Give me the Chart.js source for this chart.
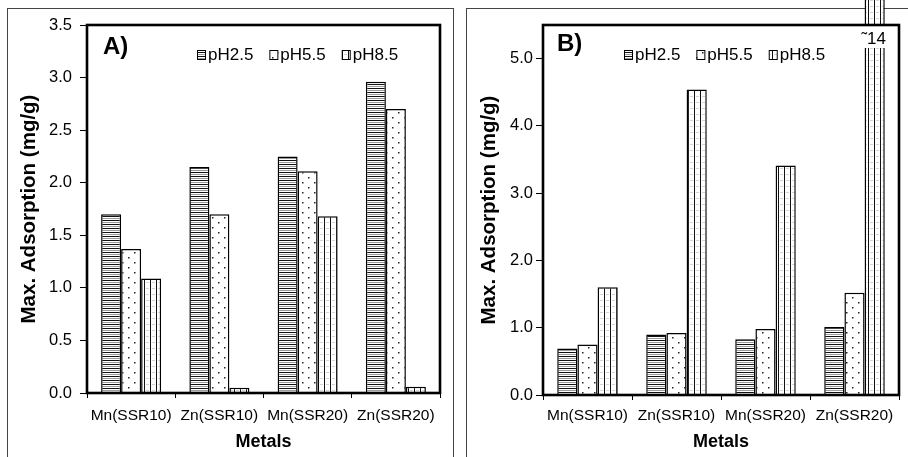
<!DOCTYPE html>
<html><head><meta charset="utf-8">
<script src="https://cdn.jsdelivr.net/npm/chart.js@4.4.0/dist/chart.umd.min.js"></script>
<style>
html,body{margin:0;padding:0;background:#fff;}
#wrap{position:relative;width:908px;height:457px;overflow:hidden;background:#fff;}
.box{position:absolute;border:1px solid #444;box-sizing:border-box;}
canvas{position:absolute;top:0;}
</style></head><body>
<div id="wrap">
<div class="box" style="left:7px;top:8px;width:447px;height:470px"></div>
<div class="box" style="left:466px;top:8px;width:460px;height:470px"></div>
<canvas id="cA" width="460" height="457" style="left:0"></canvas>
<canvas id="cB" width="448" height="457" style="left:460px"></canvas>
</div>
<script>
// ---- data ----
const categories = ['Mn(SSR10)', 'Zn(SSR10)', 'Mn(SSR20)', 'Zn(SSR20)'];
const seriesNames = ['pH2.5', 'pH5.5', 'pH8.5'];
const panelA_pH25 = [1.70, 2.15, 2.25, 2.96];
const panelA_pH55 = [1.37, 1.70, 2.11, 2.70];
const panelA_pH85 = [1.09, 0.05, 1.68, 0.06];
const panelB_pH25 = [0.69, 0.90, 0.83, 1.01];
const panelB_pH55 = [0.75, 0.92, 0.98, 1.52];
const panelB_pH85 = [1.60, 4.54, 3.41, 14];
const ticksA = [0, 0.5, 1.0, 1.5, 2.0, 2.5, 3.0, 3.5];
const ticksB = [0, 1, 2, 3, 4, 5];
const axisMaxA = 3.5;
const axisMaxB = 5.5;
const xTitle = 'Metals';
const yTitle = 'Max. Adsorption (mg/g)';
const breakText = '\u02DC14';

const FONT = '"Liberation Sans", Arial, sans-serif';

// ---- hatch patterns ----
function makePattern(kind) {
  const t = document.createElement('canvas');
  const c = t.getContext('2d');
  if (kind === 0) {
    t.width = 8; t.height = 4;
    c.fillStyle = '#fff'; c.fillRect(0, 0, 8, 4);
    c.fillStyle = '#111'; c.fillRect(0, 0, 8, 1);
    c.fillStyle = '#999'; c.fillRect(0, 2, 8, 1);
  } else if (kind === 1) {
    t.width = 12; t.height = 10;
    c.fillStyle = '#fff'; c.fillRect(0, 0, 12, 10);
    c.fillStyle = '#222';
    c.fillRect(2, 2, 1.5, 1.5);
    c.fillRect(8, 7, 1.5, 1.5);
  } else {
    t.width = 6; t.height = 6;
    c.fillStyle = '#fff'; c.fillRect(0, 0, 6, 6);
    c.fillStyle = '#d4d4d4'; c.fillRect(2, 0, 3, 1);
    c.fillStyle = '#111'; c.fillRect(0, 0, 1, 6);
  }
  return c.createPattern(t, 'repeat');
}
const patterns = [makePattern(0), makePattern(1), makePattern(2)];

// ---- plugin: frame, panel label, in-plot legend, break label ----
const panelPlugin = {
  id: 'panel',
  afterDatasetsDraw(chart, args, opts) {
    const ctx = chart.ctx, a = chart.chartArea;
    ctx.save();
    if (opts.breakLabel) {
      const bar = chart.getDatasetMeta(opts.breakLabel.dataset).data[opts.breakLabel.index];
      const w = bar.width;
      ctx.fillStyle = '#fff';
      ctx.fillRect(bar.x - w / 2 - 3, a.top + 1, w + 6, 22);
      ctx.fillStyle = '#000';
      ctx.font = '17px ' + FONT;
      ctx.textAlign = 'center'; ctx.textBaseline = 'middle';
      ctx.fillText(opts.breakLabel.text, bar.x - 1, a.top + 14);
    }
    ctx.strokeStyle = '#000'; ctx.lineWidth = 2.6;
    ctx.strokeRect(a.left, a.top, a.right - a.left, a.bottom - a.top);

    ctx.fillStyle = '#000';
    ctx.font = 'bold 24px ' + FONT;
    ctx.textAlign = 'left'; ctx.textBaseline = 'middle';
    ctx.fillText(opts.label, opts.labelX, opts.labelY);

    ctx.font = '17px ' + FONT;
    let x = opts.legendX; const y = opts.legendY;
    chart.data.datasets.forEach(ds => {
      ctx.fillStyle = ds.backgroundColor;
      ctx.fillRect(x, y - 5, 9, 10);
      ctx.lineWidth = 1; ctx.strokeStyle = '#000';
      ctx.strokeRect(x + 0.5, y - 4.5, 8, 9);
      ctx.fillStyle = '#000';
      ctx.fillText(ds.label, x + 11, y);
      x += 11 + ctx.measureText(ds.label).width + 16;
    });
    ctx.restore();
  }
};

function makeChart(id, cfg) {
  return new Chart(document.getElementById(id), {
    type: 'bar',
    data: {
      labels: categories,
      datasets: cfg.values.map((v, i) => ({
        label: seriesNames[i], data: v,
        backgroundColor: patterns[i], borderColor: '#000', borderWidth: 1.5,
        borderSkipped: 'start', categoryPercentage: 0.68, barPercentage: 1.0,
        clip: false
      }))
    },
    options: {
      responsive: false, animation: false, devicePixelRatio: 1,
      layout: { padding: { top: 25, right: cfg.padRight, left: 0, bottom: 0 } },
      plugins: {
        legend: { display: false }, tooltip: { enabled: false },
        panel: cfg.panel
      },
      scales: {
        x: {
          grid: { offset: true, drawOnChartArea: false, drawTicks: true, tickLength: 5, color: '#000', lineWidth: 1 },
          border: { display: false },
          ticks: { font: { family: FONT, size: 15.5 }, color: '#000', padding: cfg.xPad, maxRotation: 0, autoSkip: false },
          title: { display: true, text: xTitle, font: { family: FONT, size: 18, weight: 'bold' }, color: '#000', padding: { top: 0, bottom: 4 } },
          afterFit(s) { s.height = 457 - cfg.bottom; }
        },
        y: {
          min: 0, max: cfg.max,
          grid: { drawOnChartArea: false, drawTicks: true, tickLength: 7, color: '#000', lineWidth: 1 },
          border: { display: false },
          afterBuildTicks(s) { s.ticks = cfg.ticks.map(v => ({ value: v })); },
          ticks: { font: { family: FONT, size: 16.5 }, color: '#000', padding: cfg.yPad, callback: v => Number(v).toFixed(1) },
          title: { display: true, text: yTitle, font: { family: FONT, size: 20.5, weight: 'bold' }, color: '#000', padding: { top: 17, bottom: 0 } },
          afterFit(s) { s.width = cfg.left; }
        }
      }
    },
    plugins: [panelPlugin]
  });
}

makeChart('cA', {
  values: [panelA_pH25, panelA_pH55, panelA_pH85],
  max: axisMaxA, ticks: ticksA,
  left: 87, bottom: 393, padRight: 20, xPad: 8.5, yPad: 8,
  panel: { label: 'A)', labelX: 103, labelY: 47, legendX: 197, legendY: 55 }
});
makeChart('cB', {
  values: [panelB_pH25, panelB_pH55, panelB_pH85],
  max: axisMaxB, ticks: ticksB,
  left: 83, bottom: 395, padRight: 9, xPad: 6.7, yPad: 3,
  panel: { label: 'B)', labelX: 97, labelY: 44, legendX: 164, legendY: 55,
           breakLabel: { dataset: 2, index: 3, text: breakText } }
});
</script>
</body></html>
